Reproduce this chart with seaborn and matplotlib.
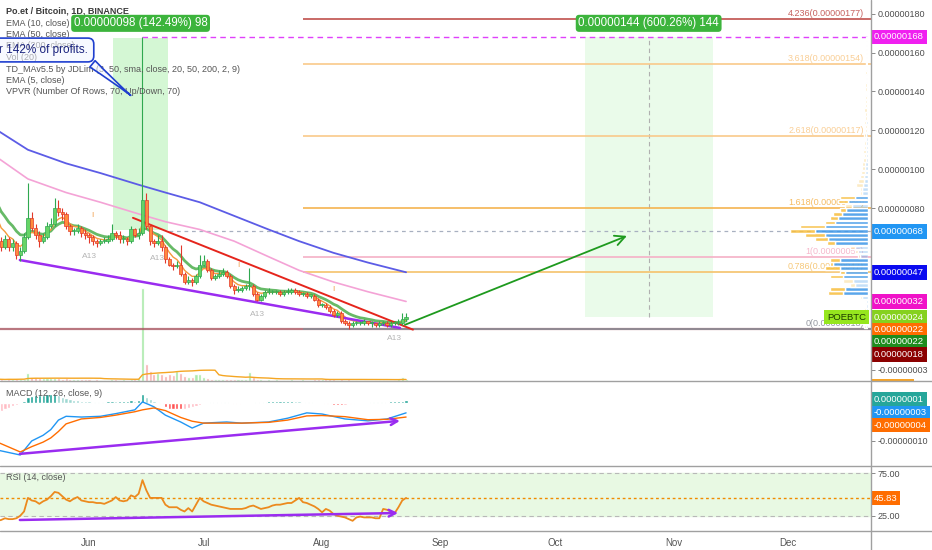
import numpy as np
import pandas as pd
import matplotlib
matplotlib.use("Agg")
import matplotlib.pyplot as plt
import matplotlib.colors as mcolors
import seaborn as sns
from matplotlib.lines import Line2D
from matplotlib.patches import Rectangle
from matplotlib.ticker import FuncFormatter
from matplotlib.transforms import Bbox, TransformedBbox, blended_transform_factory

# ---- data (prices in satoshi = 1e-8 BTC, one value per daily candle) ----
start_date = "2019-05-08"
warmup_closes = [98, 95, 92, 88, 84, 78, 70]   # days left of the window, only feed the EMAs
first_open = 66

closes = [63, 60, 64, 60, 62, 56, 58, 65, 75, 70,
          66, 63, 65, 71, 72, 80, 78, 77, 71, 68,
          68, 70, 67, 66, 65, 63, 62, 63, 63, 64,
          67, 66, 64, 64, 63, 69, 66, 67, 84, 71,
          63, 62, 63, 60, 54, 51, 50, 51, 46, 42,
          43, 42, 45, 51, 53, 48, 44, 45, 46, 47,
          45, 40, 38, 38, 39, 40, 40, 36, 33, 35,
          37, 37, 37, 37, 36, 37, 37, 38, 37, 36,
          36, 35, 35, 33, 30, 30, 29, 27, 25, 26,
          22, 21, 20, 21, 21, 21, 22, 21, 21, 20,
          21, 21, 20, 21, 21, 21, 23, 24]
highs = [68, 65, 66, 65, 64, 63, 60, 67, 93, 78,
         72, 68, 67, 73, 75, 85, 84, 80, 78, 72,
         70, 72, 71, 69, 67, 66, 64, 64, 65, 66,
         72, 68, 68, 66, 65, 71, 70, 70, 168, 88,
         72, 64, 66, 66, 61, 55, 52, 53, 61, 47,
         45, 44, 46, 56, 56, 54, 49, 46, 48, 49,
         48, 46, 41, 40, 40, 41, 49, 41, 37, 36,
         38, 39, 38, 38, 38, 38, 39, 39, 39, 38,
         37, 37, 36, 36, 34, 31, 31, 30, 28, 27,
         27, 23, 22, 22, 22, 22, 23, 22, 22, 21,
         22, 22, 22, 22, 22, 23, 26, 26]
lows = [61, 58, 59, 58, 58, 54, 53, 57, 64, 68,
        64, 60, 62, 64, 70, 71, 76, 74, 69, 66,
        66, 67, 65, 64, 62, 61, 60, 61, 62, 62,
        63, 64, 62, 62, 61, 62, 65, 64, 66, 69,
        61, 60, 61, 58, 52, 50, 48, 49, 45, 41,
        41, 40, 41, 44, 50, 47, 43, 43, 44, 45,
        44, 39, 36, 37, 37, 38, 38, 35, 32, 32,
        34, 36, 36, 36, 35, 35, 36, 36, 36, 35,
        35, 34, 34, 32, 29, 29, 28, 26, 24, 24,
        21, 20, 18, 19, 20, 20, 20, 20, 19, 19,
        19, 20, 19, 19, 20, 20, 20, 22]
volumes_m = [40, 35, 30, 45, 35, 40, 50, 45, 180, 90,
             80, 60, 70, 60, 70, 75, 60, 55, 65, 50,
             40, 35, 40, 45, 35, 30, 35, 30, 25, 30,
             40, 35, 30, 35, 30, 45, 35, 65, 2050, 380,
             220, 155, 175, 155, 120, 150, 130, 220, 175, 110,
             90, 90, 150, 155, 80, 65, 45, 40, 35, 45,
             40, 45, 35, 40, 35, 40, 200, 90, 45, 35,
             30, 35, 30, 35, 30, 25, 30, 35, 30, 30,
             35, 30, 30, 40, 45, 35, 40, 45, 40, 30,
             35, 30, 35, 30, 25, 30, 25, 25, 30, 25,
             30, 25, 30, 25, 30, 35, 90, 45]

# slow EMAs at a few days
ema_days = [0, 8, 18, 27, 37, 44, 53, 62, 71, 79, 88, 97, 107]
ema50_pts = [106, 95, 88, 83, 77, 73, 69, 63, 55, 48, 42, 37, 32]
ema200_pts = [120, 110, 103, 98, 92, 88, 83, 76, 69, 63, 57, 52, 47]

# MACD (12, 26, 9)
macd_days = [0, 6, 9, 12, 14, 16, 18, 22, 27, 31, 36, 38, 41, 44, 48, 51, 54,
             60, 64, 71, 76, 81, 85, 91, 97, 102, 107]
macd_pts = [-12.4, -13.7, -10, -8.5, -7, -4.5, -3.5, -3.7, -3.5, -2.8, -1.8, 0.3, -1,
            -3.2, -5, -6.6, -5.3, -5, -5.3, -5, -4, -2.6, -2.9, -4.2, -4.7, -4.2, -2.6]
signal_pts = [-10.3, -12.9, -11.5, -10.3, -9.2, -7.5, -5.5, -4.2, -3.8, -3.2, -2.3, -1.8,
              -1.3, -2.0, -3.8, -4.8, -5.3, -5.3, -5.3, -5.1, -4.5, -3.4, -3.3, -3.6,
              -4.4, -4.3, -3.7]
macd_hist = [-2.2, -2.0, -1.5, -1.2, -0.8, -0.5, -0.2, 0.5, 1.5, 1.8,
             2.0, 2.1, 2.2, 2.3, 2.4, 2.5, 2.0, 1.6, 1.2, 1.0,
             0.8, 0.7, 0.6, 0.5, 0.4, 0.3, 0.3, 0.2, 0.3, 0.4,
             0.5, 0.4, 0.4, 0.5, 0.6, 0.8, 0.6, 0.7, 2.5, 1.5,
             1.0, 0.6, 0.3, -0.3, -1.0, -1.5, -1.5, -1.6, -1.6, -1.5,
             -1.2, -1.0, -0.7, -0.4, -0.1, 0.1, 0.2, 0.3, 0.3, 0.2,
             0.2, 0.1, -0.2, -0.2, -0.1, 0.0, 0.1, 0.1, 0.2, 0.2,
             0.3, 0.4, 0.4, 0.5, 0.5, 0.6, 0.6, 0.6, 0.5, 0.4,
             0.3, 0.2, 0.2, 0.1, 0.0, -0.1, -0.2, -0.3, -0.4, -0.4,
             -0.5, -0.4, -0.3, -0.2, -0.1, 0.0, 0.1, 0.1, 0.2, 0.2,
             0.3, 0.3, 0.3, 0.4, 0.4, 0.5, 0.6, 0.8]

# RSI (14)
rsi = [19, 20, 22, 21, 21, 22, 25, 30, 46, 43,
       42, 39, 42, 44, 48, 53, 52, 48, 44, 42,
       45, 47, 43, 42, 41, 41, 40, 40, 39, 41,
       43, 47, 43, 42, 43, 49, 47, 51, 67, 55,
       46, 46, 46, 46, 38, 35, 35, 35, 32, 30,
       34, 30, 38, 46, 42, 40, 38, 37, 36, 35,
       34, 33, 33, 33, 33, 34, 36, 37, 35, 33,
       34, 35, 37, 38, 38, 39, 40, 40, 43, 46,
       41, 40, 38, 36, 33, 29, 33, 31, 27, 25,
       24, 23, 21, 19, 23, 24, 23, 23, 23, 22,
       22, 33, 32, 30, 28, 35, 43, 46]
rsi_last = 45.83

# VPVR, 70 rows from the lowest low to the highest high
vp_up = [2, 3, 3, 2, 2, 2, 2, 6, 25, 23, 13, 15, 25, 23, 28, 35, 28, 8, 10, 13,
         33, 40, 43, 53, 43, 33, 30, 26, 22, 16, 20, 13, 6, 6, 5, 4, 4, 3, 3, 3,
         2, 2, 2, 2, 2, 2, 2, 1, 1, 2, 1, 1, 1, 1, 1, 1, 1, 1, 1, 1,
         1, 1, 1, 1, 1, 1, 1, 1, 1, 1]
vp_down = [2, 3, 2, 2, 2, 1, 1, 2, 15, 15, 5, 10, 13, 5, 15, 3, 10, 2, 3, 5,
           8, 13, 20, 25, 25, 10, 8, 9, 6, 7, 10, 15, 2, 2, 7, 6, 4, 4, 3, 3,
           3, 2, 3, 2, 2, 1, 2, 2, 2, 2, 2, 2, 3, 2, 2, 2, 1, 2, 2, 1,
           1, 2, 1, 1, 1, 1, 1, 1, 1, 1]

fib_ratios = ["0", "0.786", "1", "1.618", "2.618", "3.618", "4.236"]
fib_prices = [18, 47, 55, 80, 117, 154, 177]
fib_colors = ["#8a8d96", "#f5c26b", "#f5b0c6", "#f5b450", "#f9c98a", "#f9c98a", "#c0504d"]

price_ticks = [180, 160, 140, 120, 100, 80, -3]
month_names = ["Jun", "Jul", "Aug", "Sep", "Oct", "Nov", "Dec"]
month_starts = ["2019-06-01", "2019-07-01", "2019-08-01", "2019-09-01",
                "2019-10-01", "2019-11-01", "2019-12-01"]

legend_lines = ["EMA (10, close)", "EMA (50, close)", "EMA (200, close)", "Vol (20)",
                "TD_MAv5.5 by JDLim (3, 50, sma, close, 20, 50, 200, 2, 9)",
                "EMA (5, close)", "VPVR (Number Of Rows, 70, Up/Down, 70)"]

# ---- figure layout ----
sns.set_theme(style="white")
plt.rcParams["font.family"] = ["Liberation Sans", "DejaVu Sans"]

W, H, RIGHT = 932, 550, 871
fig = plt.figure(figsize=(W / 100, H / 100), dpi=100)


def panel(top, bottom, share=None):
    return fig.add_axes([0, 1 - bottom / H, RIGHT / W, (bottom - top) / H], sharex=share)


ax = panel(0, 381)
ax_macd = panel(381, 466, ax)
ax_rsi = panel(466, 531, ax)

days = np.arange(len(closes))
sat = FuncFormatter(lambda v, _: f"{v * 1e-8:.8f}")
text_col = "#4d4d4d"

# volume on its own scale underneath the candles
axv = ax.twinx()
axv.set_zorder(0)
ax.set_zorder(1)
ax.patch.set_visible(False)

c = np.array(closes, float)
o = np.array([first_open] + closes[:-1], float)
up = c >= o
vol = pd.Series(volumes_m, dtype=float)
axv.bar(days, vol, width=0.8, color=np.where(up, "#a3e8a3", "#f5aaaa"), alpha=0.9)
sns.lineplot(x=days, y=vol.rolling(20, min_periods=1).mean(), ax=axv,
             color="#f5a623", linewidth=1, estimator=None)
axv.set_ylim(0, 8400)
axv.set_yticks([])

# range boxes and drawings
ax.add_patch(Rectangle((30.3, 68.8), 14.4, 98.8, fc="#d4f7d4", ec="none", zorder=0))
ax.add_patch(Rectangle((153.8, 24), 33.5, 144, fc="#eafbea", ec="none", zorder=0))
ax.vlines(170.5, 24, 168, colors="#b0b0b0", linestyles=(0, (4, 3)), lw=0.8, zorder=1)
ax.hlines(168, 38, 228.7, colors="#e040fb", linestyles=(0, (4, 3)), lw=1, zorder=1)
ax.hlines(68, 45, 228.7, colors="#a8b0c0", linestyles=(0, (3, 3)), lw=0.9, zorder=1)
ax.axhline(18, color="#a85560", lw=1.6, alpha=0.8, zorder=2)

fib_start = 80
ax.hlines(fib_prices, fib_start, 228.7, colors=fib_colors, lw=1.2, zorder=2)
for ratio, price, col in zip(fib_ratios, fib_prices, fib_colors):
    ax.text(864 / RIGHT, price + 0.6, f"{ratio}({price * 1e-8:.8f})", color=col,
            transform=blended_transform_factory(ax.transAxes, ax.transData),
            ha="right", va="bottom", fontsize=6.5, alpha=0.9, zorder=3)

# moving averages
all_close = pd.Series(warmup_closes + closes, dtype=float)
n0 = len(warmup_closes)
ema5 = all_close.ewm(span=5, adjust=False).mean().iloc[n0:].to_numpy()
ema10 = all_close.ewm(span=10, adjust=False).mean().iloc[n0:].to_numpy()
sns.lineplot(x=ema_days, y=ema200_pts, ax=ax, color="#5c5ce6", linewidth=1.3, estimator=None)
sns.lineplot(x=ema_days, y=ema50_pts, ax=ax, color="#f4a3d6", linewidth=1.2, estimator=None)
sns.lineplot(x=days, y=ema10, ax=ax, color="#4cae4c", linewidth=2.0, alpha=0.85, estimator=None)
sns.lineplot(x=days, y=ema5, ax=ax, color="#f59a3c", linewidth=1.0, estimator=None)

# trend lines
ax.plot([35.5, 108.8], [75, 17.5], color="#e5251c", lw=1.4, zorder=3)
ax.plot([5.9, 105.4], [53.3, 18.4], color="#9a2cf0", lw=1.8, zorder=3)
ax.annotate("", xy=(164.8, 65.7), xytext=(106.7, 20),
            arrowprops=dict(arrowstyle="->,head_length=0.6,head_width=0.3",
                            color="#1e9a1e", lw=1.3, shrinkA=0, shrinkB=0))

# candles
edge = np.where(up, "#2fa84f", "#e2382b")
body = np.where(up, "#66d466", "#ff8a3d")
ax.vlines(days, lows, highs, colors=edge, lw=0.8, zorder=4)
ax.bar(days, np.maximum(np.abs(c - o), 0.6), bottom=np.minimum(o, c), width=0.85,
       color=body, edgecolor=edge, linewidth=0.5, zorder=5)

# TD sequential style marks
for d in [24, 42, 68, 104]:
    ax.annotate("A13", xy=(d, lows[d]), xytext=(0, -7), textcoords="offset points",
                ha="center", va="top", fontsize=6, color="#b5b5b5", zorder=4)
for d in [25, 63, 88]:
    ax.annotate("I", xy=(d, highs[d]), xytext=(0, 12), textcoords="offset points",
                ha="center", va="bottom", fontsize=6, color="#f0a050", zorder=4)

# volume profile
vp_ax = ax.inset_axes([1 - 203 / RIGHT, 0, 200 / RIGHT, 1])
vp_ax.set_xlim(200, 0)
vp_ax.axis("off")
vp_ax.patch.set_alpha(0)
edges = np.linspace(min(lows), max(highs), len(vp_up) + 1)
centers = (edges[:-1] + edges[1:]) / 2
tot = np.array(vp_up) + np.array(vp_down)
order = np.argsort(tot)[::-1]
cum = np.cumsum(tot[order]) / tot.sum()
in_va = np.zeros(len(tot), bool)
in_va[order[:np.searchsorted(cum, 0.7) + 1]] = True
alpha = np.where(in_va, 0.85, 0.3)
blue = [mcolors.to_rgba("#3d97e8", a) for a in alpha]
yellow = [mcolors.to_rgba("#f7bd3c", a) for a in alpha]
step = edges[1] - edges[0]
vp_ax.barh(centers, vp_up, height=step * 0.85, color=blue)
vp_ax.barh(centers, vp_down, left=vp_up, height=step * 0.85, color=yellow)

ax.set_xlim(0.7, 228.7)
ax.set_ylim(-8.9, 187.0)
vp_ax.set_ylim(ax.get_ylim())

# range labels, legend, callout
for x, txt in [(37.5, "0.00000098 (142.49%) 98"), (170.5, "0.00000144 (600.26%) 144")]:
    ax.text(x, 175, txt, ha="center", va="center", color="white", fontsize=8.3, zorder=9,
            bbox=dict(boxstyle="round,pad=0.22,rounding_size=0.3", fc="#3cb43c", ec="none"))

ax.text(6 / RIGHT, 1 - 11 / 381, "Po.et / Bitcoin, 1D, BINANCE", transform=ax.transAxes,
        fontsize=6.5, fontweight="bold", color="#3a3a3a", va="center", zorder=6)
for i, line in enumerate(legend_lines):
    ax.text(6 / RIGHT, 1 - (23 + 11.5 * i) / 381, line, transform=ax.transAxes,
            fontsize=6.5, color="#555555", va="center", zorder=6)

ax.annotate("r 142% of profits.", xy=(35.5, 137), xytext=(-1 / RIGHT, 1 - 50 / 381),
            textcoords="axes fraction", ha="left", va="center", fontsize=8.5,
            color="#1a237e", zorder=12, annotation_clip=False,
            bbox=dict(boxstyle="round,pad=0.5", fc=(0.95, 0.96, 1.0, 0.55), ec="#1f3fcf", lw=1.2),
            arrowprops=dict(arrowstyle="wedge,tail_width=0.7,shrink_factor=0.4",
                            fc=(0.95, 0.96, 1.0, 0.55), ec="#1f3fcf", lw=1.2, relpos=(0.92, 0.15)))

# MACD panel
h = np.array(macd_hist)
prev = np.r_[h[0], h[:-1]]
hist_cols = np.where(h >= 0, np.where(h >= prev, "#26a69a", "#9fd8d2"),
                     np.where(h <= prev, "#ff5252", "#ffbcc4"))
ax_macd.bar(days, h, width=0.85, color=hist_cols)
sns.lineplot(x=macd_days, y=macd_pts, ax=ax_macd, color="#2196f3", linewidth=1, estimator=None)
sns.lineplot(x=macd_days, y=signal_pts, ax=ax_macd, color="#ff6d00", linewidth=1, estimator=None)
ax_macd.annotate("", xy=(105.4, -4.7), xytext=(5.9, -13.4),
                 arrowprops=dict(arrowstyle="->", color="#9a2cf0", lw=1.8, shrinkA=0, shrinkB=0))
ax_macd.set_ylim(-16.6, 5.8)
ax_macd.text(6 / RIGHT, 1 - 12 / 85, "MACD (12, 26, close, 9)", transform=ax_macd.transAxes,
             fontsize=6.5, color="#555555", va="center")

# RSI panel
ax_rsi.axhspan(25, 75, color="#e8f9e3", zorder=0)
ax_rsi.axhline(75, color="#b8b8b8", ls=(0, (4, 3)), lw=0.8)
ax_rsi.axhline(25, color="#b8b8b8", ls=(0, (4, 3)), lw=0.8)
ax_rsi.axhline(rsi_last, color="#f08c00", ls=(0, (2, 2)), lw=1)
sns.lineplot(x=days, y=rsi, ax=ax_rsi, color="#ec8a1e", linewidth=1.3, estimator=None)
ax_rsi.annotate("", xy=(104.9, 28.2), xytext=(5.9, 20),
                arrowprops=dict(arrowstyle="->", color="#9a2cf0", lw=1.8, shrinkA=0, shrinkB=0))
ax_rsi.set_ylim(7.0, 83.6)
ax_rsi.text(6 / RIGHT, 1 - 12 / 65, "RSI (14, close)", transform=ax_rsi.transAxes,
            fontsize=6.5, color="#555555", va="center")

# axes cosmetics
for a in (ax, ax_macd, ax_rsi, axv):
    for s in a.spines.values():
        s.set_visible(False)
    a.set_xlabel("")
    a.set_ylabel("")
for a in (ax, ax_macd, ax_rsi):
    a.yaxis.tick_right()
    a.tick_params(axis="y", labelsize=6.5, labelcolor=text_col, length=3, width=0.6,
                  color="#777777", pad=2)
ax.set_yticks(price_ticks)
ax.yaxis.set_major_formatter(sat)
ax_macd.set_yticks([-10])
ax_macd.yaxis.set_major_formatter(sat)
ax_rsi.set_yticks([75, 25])
ax_rsi.yaxis.set_major_formatter(FuncFormatter(lambda v, _: f"{v:.2f}"))

month_pos = (pd.to_datetime(month_starts) - pd.Timestamp(start_date)).days
ax_rsi.set_xticks(month_pos)
ax_rsi.set_xticklabels(month_names)
ax_rsi.tick_params(axis="x", labelsize=7, labelcolor="#555555", length=3, width=0.6,
                   color="#888888", pad=2)
ax.tick_params(axis="x", bottom=False, labelbottom=False)
ax_macd.tick_params(axis="x", bottom=False, labelbottom=False)


# value tags on the price scale
def tag(axis, value, text, fc, tc="white"):
    return axis.text(1 + 3 / RIGHT, value, text, color=tc, fontsize=6.8, ha="left", va="center",
                     transform=blended_transform_factory(axis.transAxes, axis.transData),
                     bbox=dict(boxstyle="square,pad=0.3", fc=fc, ec="none"),
                     clip_on=False, zorder=10)


tag(ax, 168, "0.00000168", "#f020f0")
tag(ax, 68, "0.00000068", "#2196f3")
tag(ax, 47, "0.00000047", "#0a0af0")
tag(ax, 32, "0.00000032", "#f012c8")
tag(ax, 24, "0.00000024", "#86d11e")
ax.text(866 / RIGHT, 24, "POEBTC", color="#1b3a00", fontsize=6.8, ha="right", va="center",
        transform=blended_transform_factory(ax.transAxes, ax.transData), zorder=10,
        bbox=dict(boxstyle="square,pad=0.3", fc="#96e61e", ec="none"))
tag(ax, 17.4, "0.00000022", "#ff6d00")
tag(ax, 11.2, "0.00000022", "#1e8c1e")
tag(ax, 4.6, "0.00000018", "#8b0000")
vol_tag = tag(ax, -11.4, "45.441M", "#f7a325")
vol_tag.set_clip_box(TransformedBbox(Bbox([[0, 1 - 381 / H], [1, 1]]), fig.transFigure))
vol_tag.set_clip_on(True)

tag(ax_macd, 1.05, "0.00000001", "#26a69a")
tag(ax_macd, -2.6, "-0.00000003", "#2196f3")
tag(ax_macd, -5.8, "-0.00000004", "#ff6d00")
tag(ax_rsi, rsi_last, f"{rsi_last:.2f}", "#ff6d00")

# pane separators and price scale border
for y in (381, 466, 531):
    fig.add_artist(Line2D([0, 1], [1 - y / H] * 2, transform=fig.transFigure,
                          color="#a0a0a0", lw=1))
fig.add_artist(Line2D([RIGHT / W] * 2, [0, 1], transform=fig.transFigure, color="#a0a0a0", lw=1))

fig.savefig("out.png", dpi=100)
